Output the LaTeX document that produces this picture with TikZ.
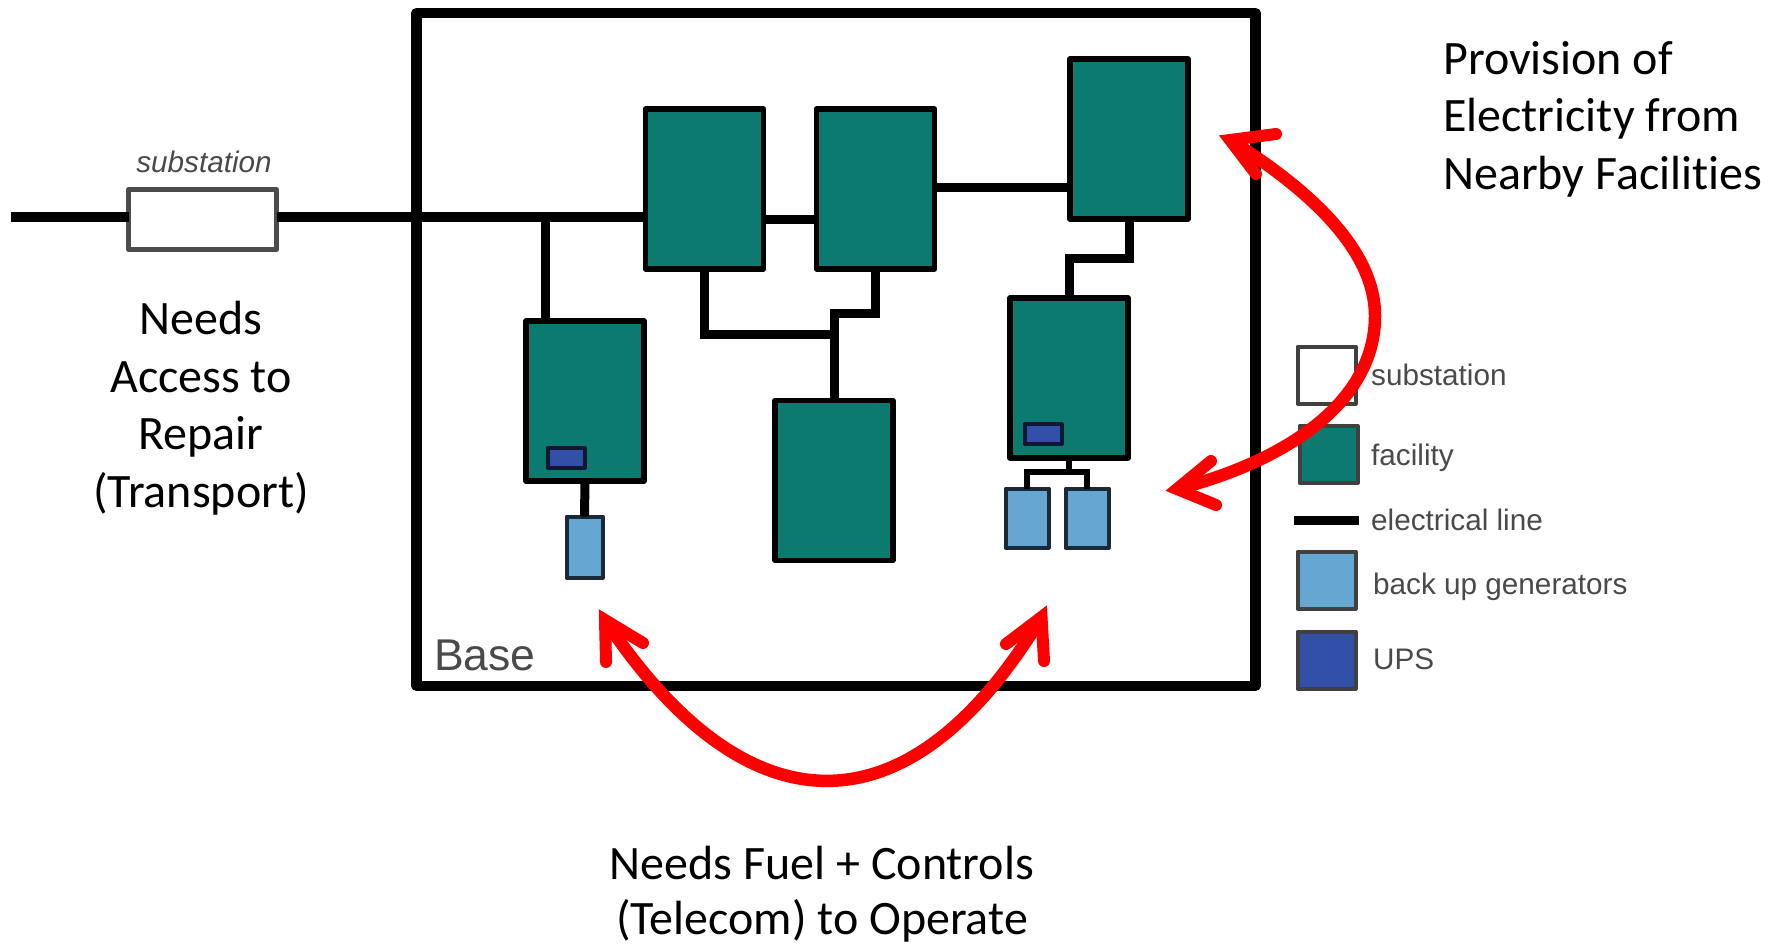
\documentclass[tikz,border=0pt]{standalone}
\usepackage{fontspec}
\setmainfont[Ligatures=NoCommon]{Carlito}
\newfontfamily\helv{Liberation Sans}
\definecolor{teal1}{HTML}{0D7A70}
\definecolor{genblue}{HTML}{66A6D2}
\definecolor{upsblue}{HTML}{3350A8}
\definecolor{labgray}{HTML}{4A4A4A}
\definecolor{arrred}{HTML}{FF0000}
\tikzset{
  box/.style={rectangle,inner sep=0pt,outer sep=0pt,draw=black,line width=5.5pt,line join=round},
  facility/.style={box,fill=teal1,minimum width=118pt,minimum height=160pt},
  gen/.style={box,fill=genblue,draw=black!75!genblue,line width=4pt},
  upsbox/.style={box,fill=upsblue,draw=black!70!upsblue,line width=4pt,minimum width=37pt,minimum height=20pt},
  subbox/.style={box,fill=white,draw=black!70,line width=4.5pt},
  legend/.style={box,line width=4pt,draw=black!75,minimum width=58pt,minimum height=57pt},
  wire/.style={draw=black,line width=9pt,line join=miter},
  thickwire/.style={draw=black,line width=10.5pt},
  thinwire/.style={draw=black,line width=6pt,line join=miter},
  leglab/.style={inner sep=0pt,anchor=west,text=labgray,font=\helv\fontsize{29.7}{32}\selectfont},
  saying/.style={inner sep=0pt,align=center,text=black,font=\fontsize{48}{57.5}\selectfont},
  redcurve/.style={draw=arrred,line width=12.5pt,line cap=butt},
  redhead/.style={draw=arrred,line width=12pt,line cap=round,line join=miter,miter limit=10},
}
\begin{document}
\begin{tikzpicture}[x=1pt,y=-1pt]
\useasboundingbox (0,0) rectangle (1777,945);
\fill[white] (0,0) rectangle (1777,945);
% Base
\node[rectangle,inner sep=0pt,outer sep=0pt,draw=black,line width=10.5pt,line join=round,minimum width=839pt,minimum height=673pt] (base) at (836,349.5) {};
\node[inner sep=0pt,anchor=west,text=labgray,font=\helv\fontsize{44.5}{48}\selectfont] (baselab) at (434,655) {Base};
% nodes
\node[subbox,minimum width=148pt,minimum height=60pt] (sub) at (202.5,219.5) {};
\node[inner sep=0pt,text=labgray,font=\helv\itshape\fontsize{29.7}{32}\selectfont] (sublab) at (204,162) {substation};
\node[facility] (f1) at (704.5,189) {};
\node[facility] (f2) at (875.5,189) {};
\node[facility] (f3) at (1129,139) {};
\node[facility] (f4) at (585,401) {};
\node[facility] (f5) at (834,480.5) {};
\node[facility] (f6) at (1069,378) {};
\node[gen,minimum width=36pt,minimum height=61pt] (g1) at (584.5,547) {};
\node[gen,minimum width=43pt,minimum height=59pt] (g2) at (1027,518) {};
\node[gen,minimum width=43pt,minimum height=59pt] (g3) at (1087,518) {};
\node[upsbox] (u1) at (566,458) {};
\node[upsbox] (u2) at (1043,434) {};
% wires
\coordinate (gridend) at (11,217);
\coordinate (tap) at (545,217);
\coordinate (interlink) at (770,219);
\coordinate (link) at (1000,187.5);
\coordinate (busa) at (834,334);
\coordinate (busb) at (834,313);
\coordinate (jog) at (1069,258);
\coordinate (bus) at (1069,472);
\draw[thickwire] (gridend) -- (gridend -| sub.west);
\draw[thickwire] (gridend -| sub.east) -- (gridend -| f1.west);
\draw[wire] (tap) -- (tap |- f4.north);
\draw[wire] (interlink -| f1.east) -- (interlink -| f2.west);
\draw[wire] (link -| f2.east) -- (link -| f3.west);
\draw[wire] (f1.south) |- (busa) -- (f5.north);
\draw[wire] (f2.south) |- (busb) -- (busa);
\draw[wire] ([xshift=60pt]f3.south -| f6.north) |- (jog) -- (f6.north);
\draw[wire] (f4.south) -- (g1.north);
\draw[thinwire] (f6.south) -- (bus);
\draw[thinwire] (g2.north) |- (bus) -| (g3.north);
% legend
\node[legend,fill=white] (lsub) at (1326.5,375) {};
\node[legend,fill=teal1] (lfac) at (1328.5,454.5) {};
\coordinate (lline) at (1294,520.5);
\coordinate (llineend) at (1359,520.5);
\draw[wire] (lline) -- (llineend);
\node[legend,fill=genblue] (lgen) at (1326.5,580) {};
\node[legend,fill=upsblue] (lups) at (1326.5,660) {};
\node[leglab] (t1) at (1371,375) {substation};
\node[leglab] (t2) at (1371,458) {facility};
\node[leglab] (t3) at (1371,520) {electrical line};
\node[leglab] (t4) at (1373,587) {back up generators};
\node[leglab] (t5) at (1373,659) {UPS};
% texts
\node[saying] (needs) at (201,408) {Needs\\Access to\\Repair\\(Transport)};
\node[saying,align=left,anchor=west] (prov) at (1443,119) {Provision of\\Electricity from\\Nearby Facilities};
\node[saying,font=\fontsize{48}{55}\selectfont] (fuel) at (822,894) {Needs Fuel + Controls\\(Telecom) to Operate};
% red arrows
\coordinate (a1) at (605,620);
\coordinate (a2) at (1041.5,617);
\coordinate (b1) at (1230,140);
\coordinate (b2) at (1177,489);
\draw[redcurve] (a1) .. controls (748,835) and (910,835) .. (a2);
\draw[redhead] (606,662) -- (a1) -- (643,643);
\draw[redhead] (1044,661) -- (a2) -- (1006,644);
\draw[redcurve] (b1) .. controls (1310,190) and (1375,250) .. (1375,316) .. controls (1375,400) and (1290,460) .. (b2);
\draw[redhead] (1276,134) -- (b1) -- (1256,174);
\draw[redhead] (1211,461) -- (b2) -- (1216,505);
\end{tikzpicture}
\end{document}
